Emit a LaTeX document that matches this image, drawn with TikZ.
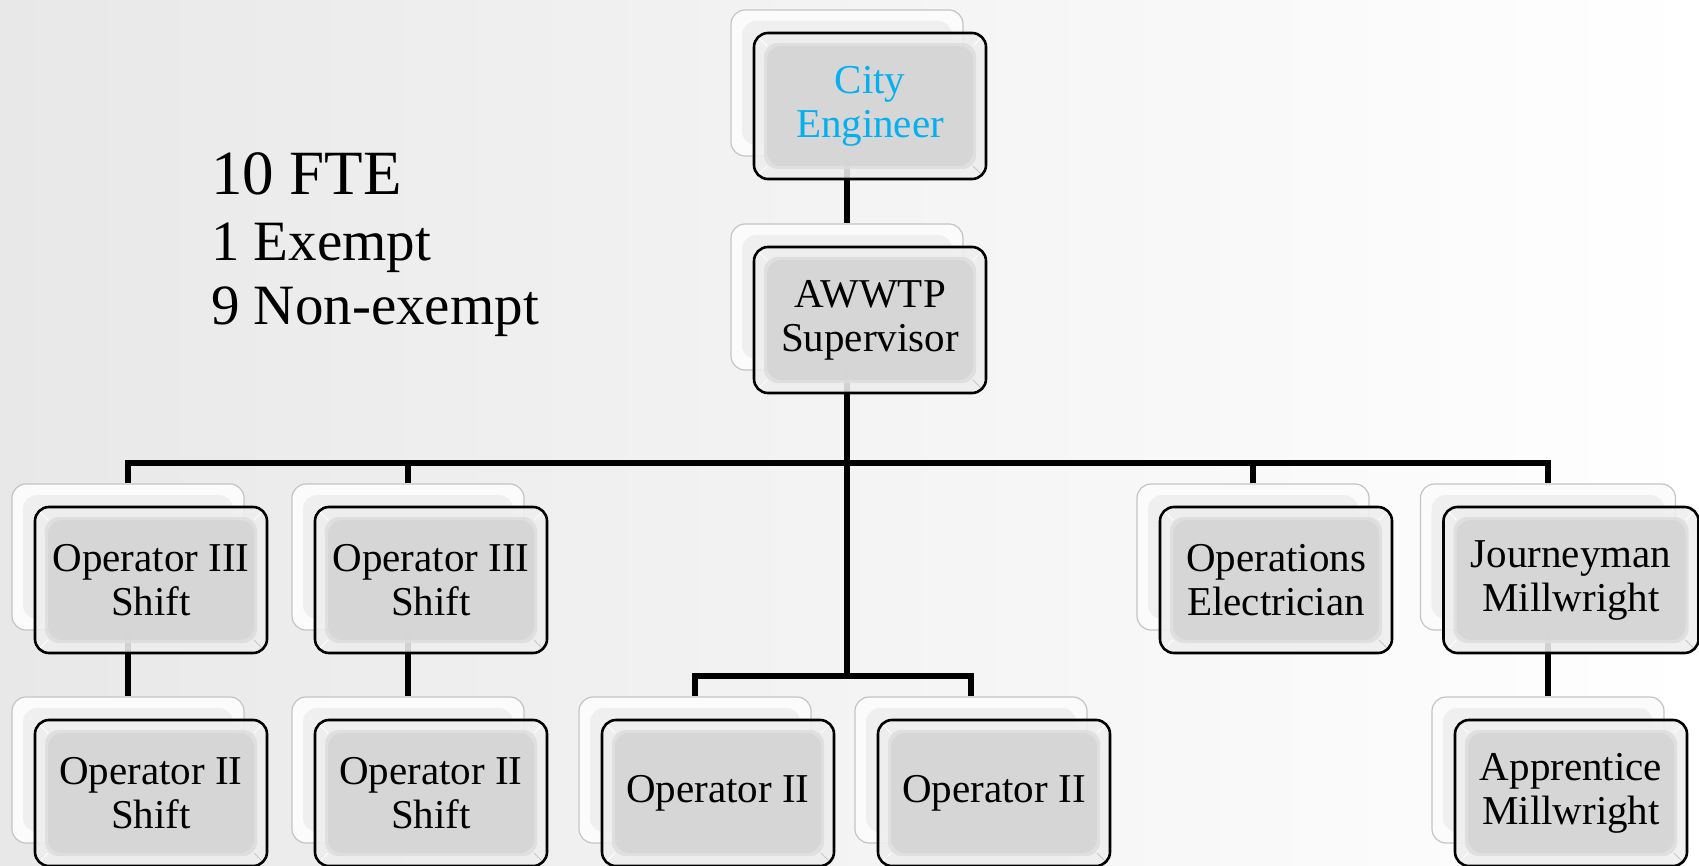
\documentclass[tikz,border=0pt]{standalone}
\usepackage{fontspec}
\setmainfont{Liberation Serif}
\usetikzlibrary{calc}
\definecolor{cityblue}{HTML}{00B0F0}
\definecolor{facegray}{HTML}{D5D5D5}
\definecolor{midgray}{HTML}{DDDDDD}
\definecolor{rimgray}{HTML}{EEEEEE}
\definecolor{backface}{HTML}{EFEFEF}
\definecolor{backrim}{HTML}{FBFBFB}
\definecolor{backline}{HTML}{C4C4C4}
\newcommand{\boxfont}{\fontsize{41}{44}\selectfont}
\begin{document}
\begin{tikzpicture}[x=1pt,y=-1pt,
  front/.style={rectangle, rounded corners=14pt, draw=black, line width=2.6pt,
    fill=rimgray, fill opacity=0.88, text opacity=1,
    minimum width=232pt, minimum height=146pt, inner sep=0pt,
    align=center, font=\boxfont, text=black,
    path picture={
      \fill[midgray] ($(path picture bounding box.south west)+(10pt,10pt)$) rectangle ($(path picture bounding box.north east)+(-10pt,-10pt)$);
      \fill[facegray] ($(path picture bounding box.south west)+(13pt,13pt)$) rectangle ($(path picture bounding box.north east)+(-13pt,-13pt)$);
      \draw[white, line width=1pt] (path picture bounding box.south west) -- ++(13pt,13pt);
      \draw[white, line width=1pt] (path picture bounding box.north west) -- ++(13pt,-13pt);
      \draw[black!22, line width=1pt] (path picture bounding box.south east) -- ++(-13pt,13pt);
      \draw[white, line width=1pt] (path picture bounding box.north east) -- ++(-13pt,-13pt);
    }},
  back/.style={rectangle, rounded corners=14pt, draw=backline, line width=1.2pt,
    fill=backrim, minimum width=232pt, minimum height=146pt, inner sep=0pt,
    path picture={
      \fill[backface] ($(path picture bounding box.south west)+(11pt,11pt)$) rectangle ($(path picture bounding box.north east)+(-11pt,-11pt)$);
    }},
  conn/.style={line width=6.5pt, black},
  lefttext/.style={anchor=base west, inner sep=0pt, text=black}]

\shade[left color=black!9, right color=white] (0,0) rectangle (1699,866);
\useasboundingbox (0,0) rectangle (1699,866);

\coordinate (bus) at (847,463);
\coordinate (bus2) at (847,676);

% invisible placeholders of the back boxes (for routing)
\path
  node[back, draw=none, fill=none, path picture={}] (ceb) at (847,83) {}
  node[back, draw=none, fill=none, path picture={}] (supb) at (847,297) {}
  node[back, draw=none, fill=none, path picture={}] (o3ab) at (128,557) {}
  node[back, draw=none, fill=none, path picture={}] (o3bb) at (408,557) {}
  node[back, draw=none, fill=none, path picture={}] (oeb) at (1253,557) {}
  node[back, draw=none, fill=none, path picture={}, minimum width=255pt] (jmb) at (1548,557) {}
  node[back, draw=none, fill=none, path picture={}] (o2ab) at (128,770) {}
  node[back, draw=none, fill=none, path picture={}] (o2bb) at (408,770) {}
  node[back, draw=none, fill=none, path picture={}] (o2cb) at (695,770) {}
  node[back, draw=none, fill=none, path picture={}] (o2db) at (971,770) {}
  node[back, draw=none, fill=none, path picture={}] (amb) at (1548,770) {};

% connectors
\draw[conn] (ceb.south) -- (supb.north);
\draw[conn] (supb.south) -- (bus2);
\draw[conn] (o3ab.north) -- (o3ab.north |- bus) -- (jmb.north |- bus) -- (jmb.north);
\draw[conn] (o3bb.north) -- (o3bb.north |- bus);
\draw[conn] (oeb.north) -- (oeb.north |- bus);
\draw[conn] (o2cb.north) -- (o2cb.north |- bus2) -- (o2db.north |- bus2) -- (o2db.north);
\draw[conn] (o3ab.south) -- (o2ab.north);
\draw[conn] (o3bb.south) -- (o2bb.north);
\draw[conn] (jmb.south) -- (amb.north);

% visible back boxes
\node[back] (ceback) at (ceb) {};
\node[back] (supback) at (supb) {};
\node[back] (o3aback) at (o3ab) {};
\node[back] (o3bback) at (o3bb) {};
\node[back] (oeback) at (oeb) {};
\node[back, minimum width=255pt] (jmback) at (jmb) {};
\node[back] (o2aback) at (o2ab) {};
\node[back] (o2bback) at (o2bb) {};
\node[back] (o2cback) at (o2cb) {};
\node[back] (o2dback) at (o2db) {};
\node[back] (amback) at (amb) {};

% front boxes
\node[front, text=cityblue] (ce) at (870,106) {City\\Engineer};
\node[front] (sup) at (870,320) {AWWTP\\Supervisor};
\node[front] (o3a) at (151,580) {Operator III\\Shift};
\node[front] (o3b) at (431,580) {Operator III\\Shift};
\node[front] (oe) at (1276,580) {Operations\\Electrician};
\node[front, minimum width=255pt] (jm) at (1571,580) {Journeyman\\Millwright};
\node[front] (o2a) at (151,793) {Operator II\\Shift};
\node[front] (o2b) at (431,793) {Operator II\\Shift};
\node[front] (o2c) at (718,793) {Operator II};
\node[front] (o2d) at (994,793) {Operator II};
\node[front] (am) at (1571,793) {Apprentice\\Millwright};

% headcount text
\node[lefttext, font=\fontsize{63}{63}\selectfont] (fte) at (211,195) {10 FTE};
\node[lefttext, font=\fontsize{57}{57}\selectfont] (ex) at (211,261) {1 Exempt};
\node[lefttext, font=\fontsize{57}{57}\selectfont] (nex) at (211,325) {9 Non-exempt};
\end{tikzpicture}
\end{document}
